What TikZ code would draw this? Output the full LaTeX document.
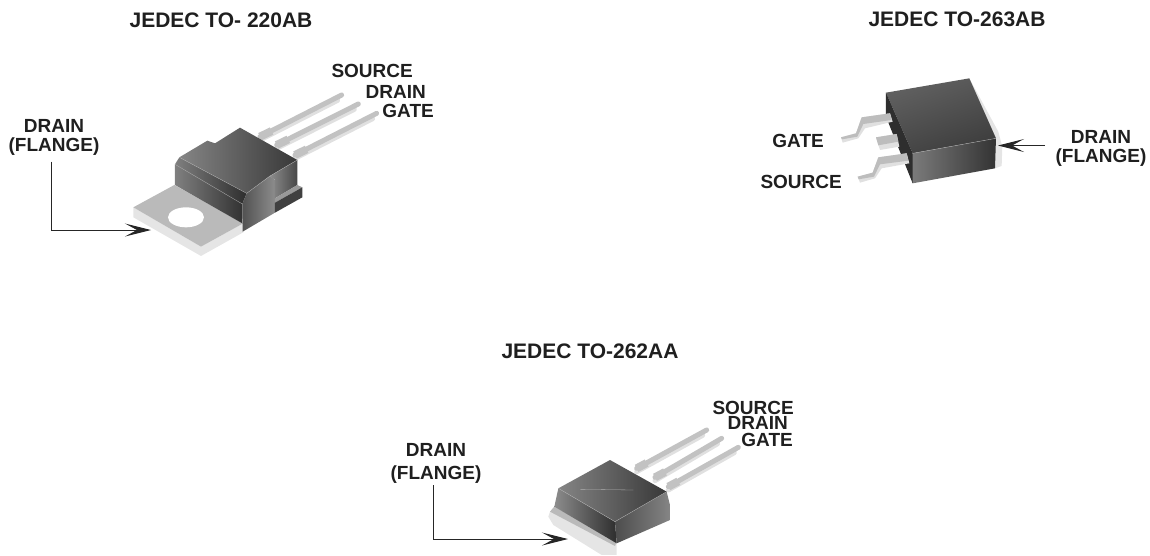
\documentclass[tikz,border=0pt]{standalone}
\usepackage{fontspec}
\setmainfont{Liberation Sans}
\usetikzlibrary{arrows.meta}
\tikzset{
	label/.style={font=\fontsize{19}{19}\selectfont\bfseries, text=black!88, inner sep=0pt, align=center},
	title/.style={font=\fontsize{21}{21}\selectfont\bfseries, text=black!88, inner sep=0pt},
	flange/.style={-{Stealth[length=26pt,width=13pt,inset=12pt]}, line width=1pt, color=black!85},
	lead/.style={line width=5pt, color=black!24, line cap=round},
	leadshadow/.style={line width=5pt, color=black!12, line cap=round},
	edgeline/.style={line width=0.3pt, color=black!30}
}
\begin{document}
\begin{tikzpicture}[x=1pt,y=-1pt]
	%%%%% START %%%%%
	\useasboundingbox (0, 0) rectangle (1150, 555);

	% titles
	\node[title] (titleA) at (221, 20) {JEDEC TO- 220AB};
	\node[title] (titleB) at (957, 19) {JEDEC TO-263AB};
	\node[title] (titleC) at (590, 351) {JEDEC TO-262AA};

	% TO-220
	\begin{scope}[shift={(120, 80)}, x=0.3333pt, y=-0.3333pt]
		\foreach \xa/\ya/\xb/\yb in {420/170/665/45, 470/195/715/72, 525/225/770/100} {
			\draw[leadshadow] (\xa, \ya+10) -- (\xb-12, \yb+16);
			\draw[lead] (\xa, \ya) -- (\xb, \yb);
			\draw[line width=8pt, color=black!24] (\xa, \ya) -- (\xa+35, \ya-17);
		}
		\fill[black!10] (40, 382) -- (243, 500) -- (370, 430) -- (370, 457) -- (243, 528) -- (40, 412) -- cycle;
		\fill[black!27] (40, 382) -- (163, 315) -- (370, 430) -- (243, 500) -- cycle;
		\fill[white] (198, 412) ellipse [x radius=54, y radius=30];
		\shade[left color=black!48, right color=black!78] (178, 232) -- (262, 182) -- (285, 190) -- (360, 143) -- (532, 240) -- (450, 288) -- (380, 340) -- cycle;
		\shade[left color=black!50, right color=black!82] (165, 253) -- (178, 232) -- (380, 340) -- (367, 372) -- (367, 430) -- (165, 315) -- cycle;
		\shade[left color=black!68, right color=black!45] (367, 372) -- (380, 340) -- (450, 288) -- (465, 300) -- (465, 398) -- (368, 455) -- cycle;
		\shade[left color=black!45, right color=black!72] (450, 288) -- (532, 240) -- (532, 315) -- (465, 355) -- (465, 300) -- cycle;
		\fill[black!40] (465, 355) -- (532, 315) -- (547, 322) -- (465, 368) -- cycle;
		\fill[black!75] (465, 368) -- (547, 322) -- (547, 352) -- (465, 398) -- cycle;
		\draw[edgeline] (165, 253) -- (367, 372);
		\draw[edgeline] (178, 232) -- (380, 340) -- (450, 288) -- (532, 240);
	\end{scope}

	% TO-263
	\begin{scope}[shift={(750, 60)}, x=0.3333pt, y=-0.3333pt]
		\fill[black!10] (658, 55) -- (745, 215) -- (757, 260) -- (755, 318) -- (735, 325) -- cycle;
		\shade[left color=black!62, right color=black!76, shading angle=20] (408, 98) -- (658, 55) -- (738, 235) -- (488, 280) -- cycle;
		\shade[left color=black!52, right color=black!80] (488, 280) -- (738, 235) -- (735, 325) -- (488, 370) -- cycle;
		\fill[black!82] (408, 98) -- (488, 280) -- (488, 370) -- (408, 170) -- cycle;
		\draw[edgeline] (488, 280) -- (738, 235);
		% gate, tab and source
		\fill[black!12] (273, 232) -- (318, 220) -- (335, 172) -- (420, 160) -- (428, 185) -- (345, 205) -- (325, 235) -- (278, 248) -- cycle;
		\fill[black!26] (273, 232) -- (318, 220) -- (335, 172) -- (420, 160) -- (425, 180) -- (340, 192) -- (322, 230) -- (276, 238) -- cycle;
		\fill[black!12] (378, 232) -- (440, 222) -- (448, 260) -- (390, 270) -- cycle;
		\fill[black!26] (378, 232) -- (440, 222) -- (445, 245) -- (385, 256) -- cycle;
		\fill[black!12] (323, 350) -- (368, 338) -- (385, 292) -- (470, 280) -- (478, 310) -- (395, 325) -- (375, 355) -- (330, 368) -- cycle;
		\fill[black!26] (323, 350) -- (368, 338) -- (385, 292) -- (470, 280) -- (475, 302) -- (390, 313) -- (372, 350) -- (326, 358) -- cycle;
	\end{scope}

	% TO-262
	\begin{scope}[shift={(520, 400)}, x=0.3333pt, y=-0.3333pt]
		\foreach \xa/\ya/\xb/\yb in {350/205/560/90, 405/232/605/115, 445/260/655/142} {
			\draw[leadshadow] (\xa, \ya+10) -- (\xb-12, \yb+16);
			\draw[lead] (\xa, \ya) -- (\xb, \yb);
			\draw[line width=8pt, color=black!24] (\xa, \ya) -- (\xa+30, \ya-16);
		}
		\fill[black!10] (90, 335) -- (103, 320) -- (290, 430) -- (290, 465) -- (245, 465) -- (100, 375) -- (85, 350) -- cycle;
		\fill[black!27] (90, 335) -- (103, 320) -- (290, 425) -- (285, 438) -- cycle;
		\shade[left color=black!45, right color=black!82] (115, 265) -- (285, 365) -- (290, 430) -- (103, 320) -- cycle;
		\shade[left color=black!70, right color=black!48] (285, 365) -- (440, 275) -- (450, 315) -- (450, 360) -- (290, 430) -- cycle;
		\shade[left color=black!48, right color=black!78] (115, 265) -- (270, 180) -- (440, 275) -- (285, 365) -- cycle;
		\draw[edgeline] (180, 268) -- (340, 270);
		\draw[edgeline] (115, 265) -- (285, 365) -- (440, 275);
	\end{scope}

	% pin labels
	\node[label, anchor=east] (sourceA) at (413, 71) {SOURCE};
	\node[label, anchor=east] (drainA) at (426, 92) {DRAIN};
	\node[label, anchor=east] (gateA) at (434, 111) {GATE};
	\node[label, anchor=east] (gateB) at (824, 141) {GATE};
	\node[label, anchor=east] (sourceB) at (842, 182) {SOURCE};
	\node[label, anchor=east] (sourceC) at (794, 408) {SOURCE};
	\node[label, anchor=east] (drainC) at (788, 423) {DRAIN};
	\node[label, anchor=east] (gateC) at (793, 440) {GATE};

	% flange arrows
	\node[label] (flangeA) at (54, 137.5) {DRAIN\\(FLANGE)};
	\node[label] (flangeB) at (1101, 148.5) {DRAIN\\(FLANGE)};
	\node[label] (flangeC) at (436, 463.5) {DRAIN\\[4pt](FLANGE)};
	\coordinate (elbowA) at (51.7, 161.5);
	\coordinate (tipA) at (151, 230);
	\coordinate (tailB) at (1045, 145.5);
	\coordinate (tipB) at (998, 145.5);
	\coordinate (elbowC) at (433, 485);
	\coordinate (tipC) at (568, 539);
	\draw[flange] (elbowA) |- (tipA);
	\draw[flange] (tailB) -- (tipB);
	\draw[flange] (elbowC) |- (tipC);

	%%%%% END %%%%%
\end{tikzpicture}
\end{document}
